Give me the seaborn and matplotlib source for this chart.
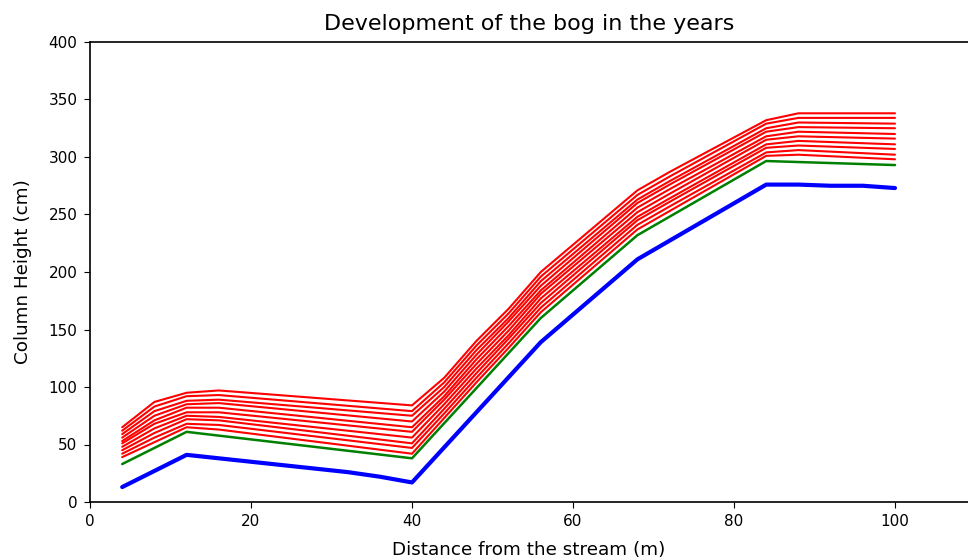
import matplotlib
matplotlib.use("Agg")
import matplotlib.pyplot as plt
import seaborn as sns
import pandas as pd

# Base (blue) profile
blue_x = [4, 12, 16, 24, 32, 36, 40, 56, 68, 84, 88, 92, 96, 100]
blue_y = [13, 41, 38, 32, 26, 22, 17, 139, 211, 276, 276, 275, 275, 273]

# Initial bog surface (green)
green_x = [4, 12, 40, 56, 68, 84, 100]
green_y = [33, 61, 38, 160, 232, 296.5, 293]

# Later bog surfaces (red), one list per year
red_x = [4, 8, 12, 16, 40, 44, 48, 52, 56, 68, 72, 84, 88, 100]
red_1 = [39, 52, 65, 63, 42, 73, 104, 134, 165, 237, 253, 301, 302, 298]
red_2 = [42, 56, 68, 67, 47, 77, 108, 138, 169, 241, 257, 304, 306, 302]
red_3 = [45, 60, 72, 71, 51, 81, 112, 142, 173, 245, 261, 308, 310, 307]
red_4 = [48, 64, 75, 74, 56, 85, 116, 145, 177, 248, 264, 311, 314, 311]
red_5 = [51, 68, 78, 78, 61, 89, 120, 149, 181, 252, 268, 315, 318, 316]
red_6 = [53, 71, 82, 82, 65, 92, 124, 153, 184, 256, 272, 318, 322, 320]
red_7 = [56, 75, 85, 86, 70, 96, 128, 157, 188, 260, 276, 322, 326, 325]
red_8 = [59, 79, 88, 89, 75, 100, 132, 160, 192, 263, 279, 325, 330, 329]
red_9 = [62, 83, 92, 93, 79, 104, 136, 164, 196, 267, 283, 329, 334, 334]
red_10 = [65, 87, 95, 97, 84, 108, 140, 168, 200, 271, 287, 332, 338, 338]
red_lines = [red_1, red_2, red_3, red_4, red_5, red_6, red_7, red_8, red_9, red_10]

x_ticks = [0, 20, 40, 60, 80, 100]
y_ticks = [0, 50, 100, 150, 200, 250, 300, 350, 400]

sns.set_style("ticks")
plt.rcParams['font.family'] = ['DejaVu Sans']
plt.rcParams['text.color'] = 'black'
plt.rcParams['axes.labelcolor'] = 'black'
plt.rcParams['xtick.color'] = 'black'
plt.rcParams['ytick.color'] = 'black'

fig = plt.figure(figsize=(9.68, 5.6), dpi=100)
ax = fig.add_axes([90 / 968, 58 / 560, 878 / 968, 460 / 560])

for i, ry in enumerate(red_lines):
    df = pd.DataFrame({"x": red_x, "y": ry})
    sns.lineplot(data=df, x="x", y="y", ax=ax, color="red", linewidth=1.5,
                 estimator=None, sort=False)

dfg = pd.DataFrame({"x": green_x, "y": green_y})
sns.lineplot(data=dfg, x="x", y="y", ax=ax, color="green", linewidth=1.8,
             estimator=None, sort=False)

dfb = pd.DataFrame({"x": blue_x, "y": blue_y})
sns.lineplot(data=dfb, x="x", y="y", ax=ax, color="blue", linewidth=3,
             estimator=None, sort=False)

ax.set_xlim(0, 878 / 8.05)
ax.set_ylim(0, 400)
ax.set_xticks(x_ticks)
ax.set_yticks(y_ticks)
ax.tick_params(labelsize=11, direction="out", length=4, color="black", pad=5)
ax.spines["right"].set_visible(False)
for s in ["left", "top", "bottom"]:
    ax.spines[s].set_color("black")
    ax.spines[s].set_linewidth(1.2)
ax.set_xlabel("Distance from the stream (m)", fontsize=13.2, labelpad=8)
ax.set_ylabel("Column Height (cm)", fontsize=13.2, labelpad=12)
ax.set_title("Development of the bog in the years", fontsize=16, pad=9)

fig.savefig("out.png", dpi=100)
